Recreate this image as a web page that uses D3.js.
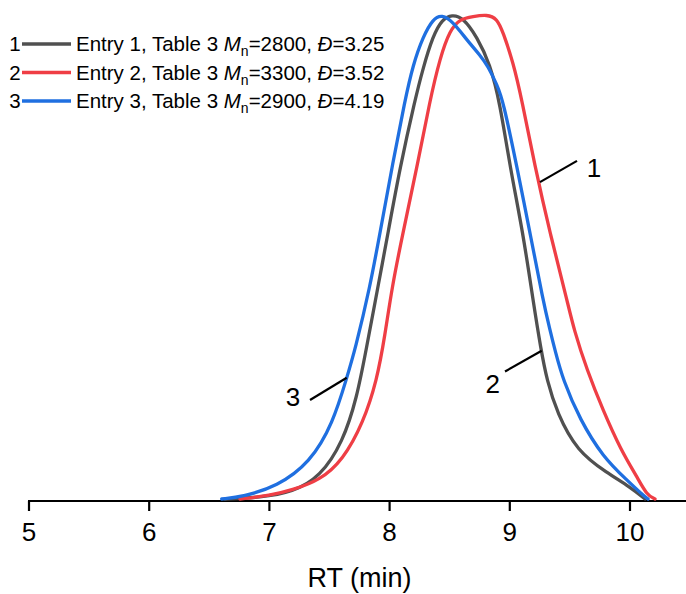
<!DOCTYPE html>
<html><head><meta charset="utf-8">
<script src="https://cdn.jsdelivr.net/npm/d3@7"></script>
<style>html,body{margin:0;padding:0;background:#fff;} svg{display:block;font-family:"Liberation Sans",Arial,sans-serif;}</style>
</head><body>
<svg id="c" width="686" height="594"></svg>
<script>
const xTicks = [5, 6, 7, 8, 9, 10];
const xTitle = "RT (min)";
const seriesNames = ["Entry 1, Table 3", "Entry 2, Table 3", "Entry 3, Table 3"];
const seriesLabels = ["1", "2", "3"];
const mnValues = ["2800", "3300", "2900"];
const dispValues = ["3.25", "3.52", "4.19"];
const colors = ["#505050", "#ef3e45", "#1f6fe0"];

const entry1 = [
  [6.631,0],[6.922,0.003],[7.196,0.0145],[7.421,0.0455],[7.612,0.118],[7.729,0.211],[7.804,0.308],
  [7.903,0.439],[7.987,0.551],[8.087,0.687],[8.211,0.826],[8.278,0.892],[8.361,0.959],[8.436,0.993],
  [8.519,1.003],[8.611,0.997],[8.727,0.957],[8.835,0.901],[8.918,0.82],[9.002,0.687],[9.11,0.551],
  [9.193,0.412],[9.26,0.308],[9.309,0.246],[9.393,0.178],[9.559,0.099],[9.809,0.054],[10.0,0.025],[10.125,0]
];
const entry2 = [
  [6.755,0],[7.005,0.007],[7.196,0.019],[7.421,0.039],[7.612,0.081],[7.779,0.157],[7.895,0.246],
  [7.962,0.34],[8.02,0.439],[8.111,0.551],[8.228,0.687],[8.336,0.826],[8.419,0.913],[8.502,0.971],
  [8.586,0.994],[8.694,0.999],[8.81,1.003],[8.894,0.995],[8.943,0.967],[9.027,0.905],[9.101,0.826],
  [9.21,0.687],[9.334,0.551],[9.476,0.412],[9.534,0.35],[9.642,0.267],[9.775,0.184],[9.925,0.101],
  [10.058,0.046],[10.141,0.008],[10.208,0]
];
const entry3 = [
  [6.603,0],[6.78,0.005],[7.063,0.026],[7.338,0.075],[7.529,0.157],[7.646,0.253],[7.712,0.308],
  [7.837,0.439],[7.92,0.551],[8.02,0.687],[8.128,0.826],[8.195,0.899],[8.278,0.957],[8.361,0.994],
  [8.436,1.003],[8.527,0.988],[8.644,0.95],[8.752,0.919],[8.819,0.896],[8.894,0.857],[8.943,0.826],
  [9.06,0.687],[9.168,0.551],[9.276,0.412],[9.334,0.35],[9.376,0.308],[9.443,0.246],[9.584,0.164],
  [9.775,0.087],[9.975,0.039],[10.125,0.004],[10.15,0]
];
const seriesData = [entry1, entry2, entry3];

// annotation: label, anchor [RT, value], line end [RT, value], text centre [RT, value]
const annotations = [
  ["1", [9.251, 0.656], [9.559, 0.700], [9.70, 0.687]],
  ["2", [9.265, 0.307], [8.960, 0.264], [8.858, 0.240]],
  ["3", [7.643, 0.251], [7.338, 0.205], [7.196, 0.212]]
];

const svg = d3.select("#c");
const x = d3.scaleLinear().domain([5, 10]).range([29, 630]);
const y = d3.scaleLinear().domain([0, 1]).range([499, 16]);

// axis
const axisG = svg.append("g").attr("transform", "translate(0,501)");
axisG.append("line").attr("x1", x(5) - 1).attr("x2", 686).attr("y1", 0).attr("y2", 0)
  .attr("stroke", "#000").attr("stroke-width", 2.2);
axisG.selectAll("line.tick").data(xTicks).enter().append("line")
  .attr("class", "tick").attr("x1", d => x(d)).attr("x2", d => x(d))
  .attr("y1", 0).attr("y2", 10).attr("stroke", "#000").attr("stroke-width", 2.2);
axisG.selectAll("text.tl").data(xTicks).enter().append("text")
  .attr("class", "tl").attr("x", d => x(d)).attr("y", 40)
  .attr("text-anchor", "middle").attr("font-size", 26).attr("fill", "#000").text(d => d);
svg.append("text").attr("x", x(7.75)).attr("y", 587).attr("text-anchor", "middle")
  .attr("font-size", 27).attr("fill", "#000").text(xTitle);

// curves
const line = d3.line().x(d => x(d[0])).y(d => y(d[1])).curve(d3.curveBasis);
seriesData.forEach((s, i) => {
  svg.append("path").datum(s).attr("d", line).attr("fill", "none")
    .attr("stroke", colors[i]).attr("stroke-width", 3.3).attr("stroke-linejoin", "round").attr("stroke-linecap", "round");
});

// annotations
annotations.forEach(a => {
  svg.append("line").attr("x1", x(a[1][0])).attr("y1", y(a[1][1]))
    .attr("x2", x(a[2][0])).attr("y2", y(a[2][1]))
    .attr("stroke", "#000").attr("stroke-width", 2.2);
  svg.append("text").attr("x", x(a[3][0])).attr("y", y(a[3][1]) + 9.5).attr("text-anchor", "middle")
    .attr("font-size", 26).attr("fill", "#000").text(a[0]);
});

// legend
const legY = [44, 72.5, 101];
seriesNames.forEach((n, i) => {
  const g = svg.append("g").attr("transform", `translate(0,${legY[i]})`);
  g.append("text").attr("x", 15).attr("y", 7).attr("text-anchor", "middle")
    .attr("font-size", 20.5).attr("fill", "#000").text(seriesLabels[i]);
  g.append("line").attr("x1", 22).attr("x2", 71).attr("y1", 0).attr("y2", 0)
    .attr("stroke", colors[i]).attr("stroke-width", 3.6);
  const t = g.append("text").attr("x", 76).attr("y", 7).attr("font-size", 20.5).attr("fill", "#000");
  t.append("tspan").text(n + " ");
  t.append("tspan").attr("font-style", "italic").text("M");
  t.append("tspan").attr("font-size", 14).attr("dy", 5).text("n");
  t.append("tspan").attr("dy", -5).text("=" + mnValues[i] + ", ");
  t.append("tspan").attr("font-style", "italic").text("Đ");
  t.append("tspan").text("=" + dispValues[i]);
});
</script>
</body></html>
